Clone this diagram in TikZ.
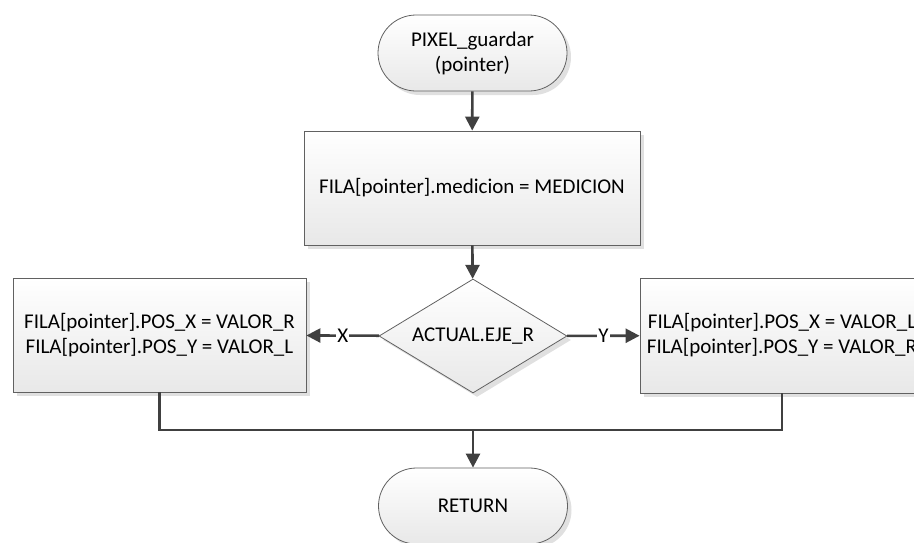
\documentclass[tikz,border=0pt]{standalone}
\usepackage{fontspec}
\setmainfont{Carlito}
\usetikzlibrary{shapes.geometric,shapes.misc,arrows.meta,shadows}

\tikzset{
  boxshade/.style={draw=black!62, line width=0.8pt,
    top color=white, bottom color=black!9,
    drop shadow={shadow xshift=4pt, shadow yshift=-4pt, fill=black!12, opacity=1}},
  terminal/.style={boxshade, rounded rectangle, minimum width=189pt,
    minimum height=76pt, inner sep=0pt, align=center},
  process/.style={boxshade, rectangle, inner sep=0pt, align=center},
  decision/.style={boxshade, diamond, aspect=1.65, minimum width=188pt,
    minimum height=114pt, inner sep=0pt},
  flow/.style={draw=black!75, line width=2.6pt,
    -{Triangle[length=14pt,width=14pt]}},
  plain/.style={draw=black!75, line width=2.6pt},
  branch/.style={fill=white, inner sep=1pt},
}

\begin{document}
\begin{tikzpicture}[x=1pt,y=-1pt,font=\fontsize{21}{25}\selectfont]
\useasboundingbox (0,0) rectangle (914,542);
\clip (0,0) rectangle (914,542);

\node[terminal] (start) at (472.5,53) {PIXEL\_guardar\\(pointer)};
\node[process, minimum width=336pt, minimum height=114pt] (store) at (472,188)
  {FILA[pointer].medicion = MEDICION};
\node[decision] (axis) at (473,336) {ACTUAL.EJE\_R};
\node[process, minimum width=293pt, minimum height=114pt] (setx) at (159.5,335)
  {FILA[pointer].POS\_X = VALOR\_R\\FILA[pointer].POS\_Y = VALOR\_L};
\node[process, minimum width=284pt, minimum height=115pt] (sety) at (782,335.5)
  {FILA[pointer].POS\_X = VALOR\_L\\FILA[pointer].POS\_Y = VALOR\_R};
\node[terminal] (ret) at (473,506) {RETURN};

\coordinate (join) at (473,430);

\draw[flow] (start) -- (store);
\draw[flow] (store) -- (axis);
\draw[flow] (axis) -- node[branch] {X} (setx);
\draw[flow] (axis) -- node[branch] {Y} (sety);
\draw[plain] (setx.south) |- (join) -| (sety.south);
\draw[flow] (join) -- (ret);
\end{tikzpicture}
\end{document}
